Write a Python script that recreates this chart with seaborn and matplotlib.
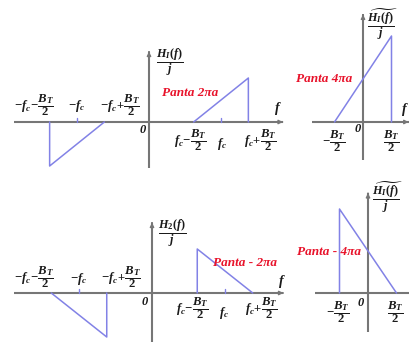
import matplotlib
matplotlib.use("Agg")
import matplotlib.pyplot as plt
import seaborn as sns

sns.set_theme(style="white")
plt.rcParams["font.family"] = ["Liberation Serif", "DejaVu Serif"]
plt.rcParams["mathtext.fontset"] = "custom"
plt.rcParams["mathtext.it"] = "Liberation Serif:italic:bold"
plt.rcParams["mathtext.rm"] = "Liberation Serif:bold"
plt.rcParams["mathtext.bf"] = "Liberation Serif:bold"

W, H = 409, 342

# Normalised frequency units: carrier fc = 1, half bandwidth BT/2 = 0.38
fc = 1.0
half_bt = 0.38

# H_I(f)/j : odd ramps around +/- fc, slope 2*pi*a
hi_left_f = [-fc - half_bt, -fc - half_bt, -fc + half_bt]
hi_left_v = [0.0, -1.0, 0.0]
hi_right_f = [fc - half_bt, fc + half_bt, fc + half_bt]
hi_right_v = [0.0, 1.0, 0.0]

# Equivalent lowpass, slope 4*pi*a (frequency in units of BT/2)
hl_f = [-1.0, 1.0, 1.0]
hl_v = [0.0, 2.0, 0.0]

# H_2(f)/j : ramps with slope -2*pi*a
h2_left_f = [-fc - half_bt, -fc + half_bt, -fc + half_bt]
h2_left_v = [0.0, -1.0, 0.0]
h2_right_f = [fc - half_bt, fc - half_bt, fc + half_bt]
h2_right_v = [0.0, 1.0, 0.0]

# Equivalent lowpass, slope -4*pi*a
h2l_f = [-1.0, -1.0, 1.0]
h2l_v = [0.0, 2.0, 0.0]

LINE = "#8282e6"
AXC = "#767676"
RED = "#e8132b"
TXT = "#1a1a1a"

fig = plt.figure(figsize=(W / 100, H / 100), dpi=100)


def panel(x0, y0, sx, sy):
    ax = fig.add_axes([0, 0, 1, 1])
    ax.set_xlim((0 - x0) / sx, (W - x0) / sx)
    ax.set_ylim((y0 - H) / sy, y0 / sy)
    ax.set_facecolor("none")
    ax.axis("off")
    return ax


def axes_cross(ax, xmin, xmax, ymin, ymax):
    ax.plot([xmin, xmax], [0, 0], color=AXC, lw=1.5, solid_capstyle="butt")
    ax.plot([0, 0], [ymin, ymax], color=AXC, lw=1.5, solid_capstyle="butt")
    ax.annotate("", xy=(xmax, 0), xytext=(xmax - 0.01, 0),
                arrowprops=dict(arrowstyle="-|>", color=AXC, lw=1.0, mutation_scale=6))
    ax.annotate("", xy=(0, ymax), xytext=(0, ymax - 0.01),
                arrowprops=dict(arrowstyle="-|>", color=AXC, lw=1.0, mutation_scale=6))


def curve(ax, f, v):
    sns.lineplot(x=f, y=v, sort=False, estimator=None, ax=ax, color=LINE, lw=1.1)


def ticks(ax, positions, h):
    for p in positions:
        ax.plot([p, p], [0, h], color=LINE, lw=1.0)


def t(x, y, s, size=9, color=TXT, **kw):
    fig.text(x / W, 1 - y / H, s, fontsize=size, color=color,
             ha=kw.pop("ha", "center"), va=kw.pop("va", "center"), **kw)


def zero(x, y):
    fig.text(x / W, 1 - y / H, "0", fontsize=9, color=TXT, ha="center", va="center",
             fontweight="bold", fontstyle="italic", family="Liberation Serif")


def red(x, y, s):
    fig.text(x / W, 1 - y / H, s, fontsize=9.5, color=RED, ha="center", va="center",
             fontweight="bold", fontstyle="italic", family="Liberation Serif")


# ---- top-left: H_I(f)/j
ax = panel(149, 122, 72, 44)
axes_cross(ax, -1.88, 1.86, -1.05, 1.6)
curve(ax, hi_left_f, hi_left_v)
curve(ax, hi_right_f, hi_right_v)
ticks(ax, [-fc, fc], 0.09)

# ---- top-right: lowpass, slope 4*pi*a
ax = panel(363, 122, 28.5, 43)
axes_cross(ax, -1.79, 1.6, -0.88, 2.5)
curve(ax, hl_f, hl_v)

# ---- bottom-left: H_2(f)/j
ax = panel(152, 293, 73, 44)
axes_cross(ax, -1.89, 1.8, -1.3, 1.6)
curve(ax, h2_left_f, h2_left_v)
curve(ax, h2_right_f, h2_right_v)
ticks(ax, [-fc, fc], 0.09)

# ---- bottom-right: lowpass, slope -4*pi*a
ax = panel(368, 293, 28.5, 42)
axes_cross(ax, -1.86, 1.65, -0.93, 2.38)
curve(ax, h2l_f, h2l_v)

FS = 9.2

# ---- labels, top-left
t(34, 105, r"$-f_c\!-\!\dfrac{B_T}{2}$", FS)
t(77, 106, r"$-f_c$", FS)
t(120, 105, r"$-f_c\!+\!\dfrac{B_T}{2}$", FS)
zero(143, 130)
t(170, 62, r"$\dfrac{H_I(f)}{j}$", 8.8)
red(190, 93, "Panta 2πa")
t(190, 140, r"$f_c\!-\!\dfrac{B_T}{2}$", FS)
t(222, 144, r"$f_c$", FS)
t(260, 140, r"$f_c\!+\!\dfrac{B_T}{2}$", FS)
t(278, 109, r"$f$", 10)

# ---- labels, top-right
t(382, 24, r"$\dfrac{\widetilde{H_I(f)}}{j}$", 8.8)
red(324, 79, "Panta 4πa")
t(334, 141, r"$-\dfrac{B_T}{2}$", FS)
zero(358, 129)
t(391, 141, r"$\dfrac{B_T}{2}$", FS)
t(405, 110, r"$f$", 10)

# ---- labels, bottom-left
t(34, 277, r"$-f_c\!-\!\dfrac{B_T}{2}$", FS)
t(79, 279, r"$-f_c$", FS)
t(121, 277, r"$-f_c\!+\!\dfrac{B_T}{2}$", FS)
zero(145, 302)
t(172, 233, r"$\dfrac{H_2(f)}{j}$", 8.8)
red(245, 263, "Panta - 2πa")
t(192, 308, r"$f_c\!-\!\dfrac{B_T}{2}$", FS)
t(224, 313, r"$f_c$", FS)
t(261, 308, r"$f_c\!+\!\dfrac{B_T}{2}$", FS)
t(282, 282, r"$f$", 10)

# ---- labels, bottom-right
t(387, 197, r"$\dfrac{\widetilde{H_I(f)}}{j}$", 8.8)
red(329, 252, "Panta - 4πa")
t(338, 312, r"$-\dfrac{B_T}{2}$", FS)
zero(361, 303)
t(395, 312, r"$\dfrac{B_T}{2}$", FS)

fig.savefig("out.png", dpi=100, facecolor="white")
